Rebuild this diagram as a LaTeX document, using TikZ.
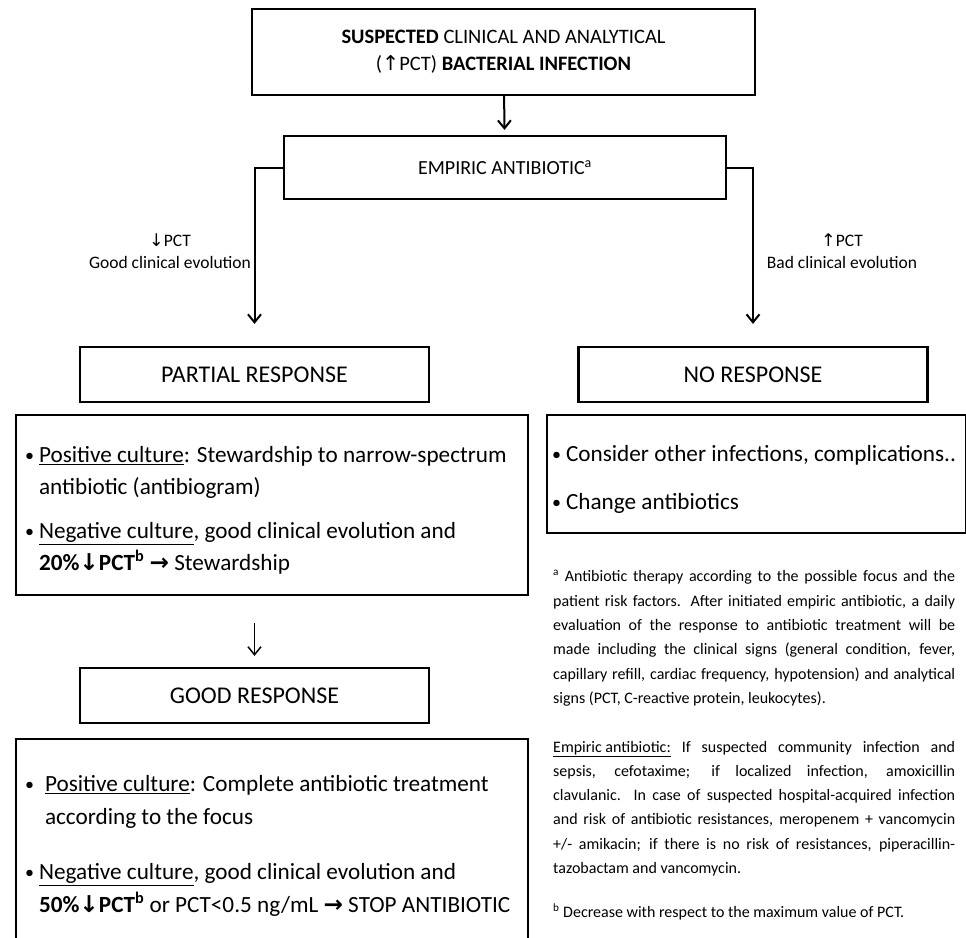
\documentclass[tikz,border=0pt]{standalone}
\usepackage{fontspec}
\setmainfont{Carlito}
\newfontfamily\arrowfont{DejaVu Sans}
\usetikzlibrary{arrows.meta,positioning}

\newcommand{\pctup}{{\arrowfont ↑}}
\newcommand{\pctdown}{{\arrowfont ↓}}
\newcommand{\thenarrow}{{\arrowfont\bfseries →}}
\newcommand{\bulletmark}{\raisebox{1pt}{\fontsize{18}{18}\selectfont\textbullet}\hspace{5pt}}
\newcommand{\bulletgap}{\hphantom{\bulletmark}}
\newcommand{\topstrut}{\rule{0pt}{27pt}}

\begin{document}
\begin{tikzpicture}[x=1pt, y=-1pt,
        block/.style={rectangle, draw, line width=2.2pt, align=center, inner sep=0pt},
        listbox/.style={rectangle, draw, line width=2.2pt, align=flush left, inner ysep=0pt, inner xsep=9pt, anchor=north west},
        arrow/.style={line width=2pt, -{Straight Barb[length=8pt, width=13pt]}},
        evolabel/.style={align=center, font=\fontsize{17.5}{22}\selectfont},
        listtext/.style={font=\fontsize{23.2}{32.5}\selectfont},
        answer/.style={block, minimum width=349pt, minimum height=55pt, font=\fontsize{24}{28}\selectfont}
    ]
        \useasboundingbox (0,0) rectangle (966,937);

        % Main boxes
        \node[block, minimum width=503pt, minimum height=86pt, font=\fontsize{20.5}{27}\selectfont] (suspected) at (503.5,52)
            {\textbf{SUSPECTED} CLINICAL AND ANALYTICAL\\(\pctup PCT) \textbf{BACTERIAL INFECTION}};
        \node[block, minimum width=442pt, minimum height=63pt, font=\fontsize{20}{24}\selectfont] (empiric) at (505,167.5)
            {EMPIRIC ANTIBIOTIC\textsuperscript{a}};

        % Responses
        \node[answer] (partial) at (254.5,374.5) {PARTIAL RESPONSE};
        \node[answer] (noresponse) at (753,374.5) {NO RESPONSE};
        \node[answer] (good) at (254.5,695.5) {GOOD RESPONSE};

        % Lists
        \node[listbox, listtext, text width=494pt, minimum height=180pt] (partlist) at (15,414) {
            \topstrut\bulletmark\underline{Positive culture}: Stewardship to narrow-spectrum\\
            \bulletgap antibiotic (antibiogram)\\[11pt]
            \bulletmark\underline{Negative culture}, good clinical evolution and\\
            \bulletgap\textbf{20\%\pctdown PCT\textsuperscript{b}} \thenarrow\ Stewardship
        };
        \node[listbox, listtext, inner xsep=5pt, text width=409pt, minimum height=118pt] (nolist) at (546,414) {
            \topstrut\bulletmark Consider other infections, complications..\\[16pt]
            \bulletmark Change antibiotics
        };
        \node[listbox, listtext, text width=494pt, minimum height=203pt] (goodlist) at (15,738) {
            \topstrut\bulletmark\hspace{6pt}\underline{Positive culture}: Complete antibiotic treatment\\
            \bulletgap\hspace{6pt}according to the focus\\[23pt]
            \bulletmark\underline{Negative culture}, good clinical evolution and\\
            \bulletgap\textbf{50\%\pctdown PCT\textsuperscript{b}} or PCT<0.5 ng/mL \thenarrow\ STOP ANTIBIOTIC
        };

        % Evolution labels
        \node[evolabel] (goodevo) at (170,251) {\pctdown PCT\\Good clinical evolution};
        \node[evolabel] (badevo) at (842,251) {\pctup PCT\\Bad clinical evolution};

        % Footnotes
        \node[anchor=north west, text width=402pt, align=justify, inner sep=0pt, font=\fontsize{16}{24.3}\selectfont] (notes) at (553,570) {
            \textsuperscript{a} Antibiotic therapy according to the possible focus and the \linebreak
            patient risk factors. After initiated empiric antibiotic, a daily \linebreak
            evaluation of the response to antibiotic treatment will be \linebreak
            made including the clinical signs (general condition, fever, \linebreak
            capillary refill, cardiac frequency, hypotension) and analytical \linebreak
            signs (PCT, C-reactive protein, leukocytes).\par\vspace{24.3pt}
            \underline{Empiric antibiotic:} If suspected community infection and \linebreak
            sepsis, cefotaxime; if localized infection, amoxicillin \linebreak
            clavulanic. In case of suspected hospital-acquired infection \linebreak
            and risk of antibiotic resistances, meropenem + vancomycin \linebreak
            +/- amikacin; if there is no risk of resistances, piperacillin-\linebreak
            tazobactam and vancomycin.\par\vspace{20pt}
            \textsuperscript{b} Decrease with respect to the maximum value of PCT.
        };

        % Connections
        \draw[arrow, shorten >=5pt] (suspected) -- (empiric);
        \draw[arrow, shorten >=22pt] (empiric.west) -| (partial.north);
        \draw[arrow, shorten >=22pt] (empiric.east) -| (noresponse.north);
        \draw[arrow, line width=1.5pt, shorten <=27pt, shorten >=11pt] (partlist.south -| good.north) -- (good.north);
    \end{tikzpicture}
\end{document}
